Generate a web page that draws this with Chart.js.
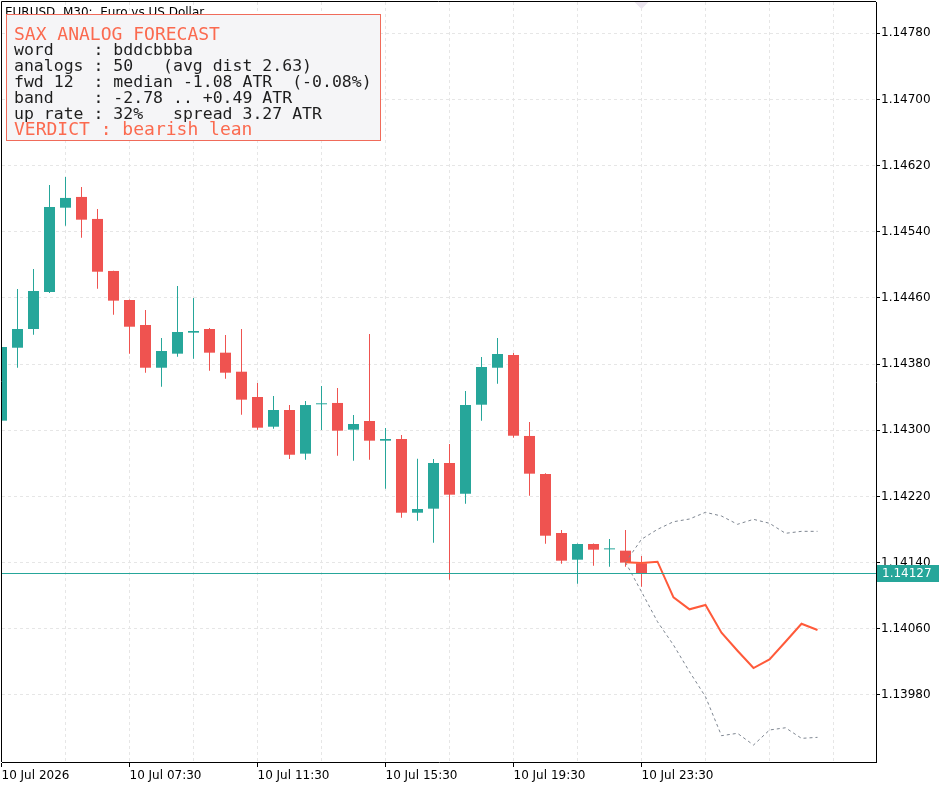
<!DOCTYPE html>
<html>
<head>
<meta charset="utf-8">
<title>EURUSD M30 - SAX analog forecast</title>
<script src="https://cdn.jsdelivr.net/npm/chart.js@4.4.1/dist/chart.umd.min.js"></script>
<style>
  html, body { margin: 0; padding: 0; background: #fff; overflow: hidden; }
  #chart { display: block; }
</style>
</head>
<body>
<canvas id="chart" width="951" height="789"></canvas>
<script>
// --- candles, one per M30 bar (index 0 = 10 Jul 03:30) ---
const opens = [
  1.143116, 1.143998, 1.144224, 1.144672, 1.145691, 1.145821, 1.145555, 1.144926, 1.144575, 1.144273,
  1.143756, 1.143926, 1.144180, 1.144224, 1.143938, 1.143708, 1.143402, 1.143043, 1.143245, 1.142717,
  1.143314, 1.143330, 1.143007, 1.143112, 1.142874, 1.142894, 1.142003, 1.142052, 1.142604, 1.142233,
  1.143309, 1.143756, 1.143910, 1.142931, 1.142471, 1.141758, 1.141435, 1.141625, 1.141560, 1.141544,
  1.141391
];
const highs = [
  1.144020, 1.144708, 1.144950, 1.145966, 1.146062, 1.145942, 1.145675, 1.144930, 1.144580, 1.144454,
  1.144116, 1.144744, 1.144599, 1.144236, 1.144152, 1.144224, 1.143572, 1.143414, 1.143305, 1.143354,
  1.143535, 1.143511, 1.143185, 1.144164, 1.143027, 1.142943, 1.142656, 1.142653, 1.142834, 1.143475,
  1.143886, 1.144116, 1.143934, 1.143100, 1.142480, 1.141794, 1.141630, 1.141630, 1.141685, 1.141794,
  1.141479
];
const lows = [
  1.143100, 1.143756, 1.144156, 1.144660, 1.145474, 1.145328, 1.144712, 1.144397, 1.143926, 1.143696,
  1.143527, 1.143890, 1.143865, 1.143720, 1.143624, 1.143188, 1.143007, 1.143019, 1.142653, 1.142644,
  1.143003, 1.142692, 1.142632, 1.142644, 1.142293, 1.141943, 1.141906, 1.141640, 1.141193, 1.142112,
  1.143116, 1.143563, 1.142910, 1.142209, 1.141628, 1.141386, 1.141145, 1.141362, 1.141350, 1.141350,
  1.141108
];
const closes = [
  1.144007, 1.144224, 1.144684, 1.145700, 1.145809, 1.145546, 1.144917, 1.144567, 1.144252, 1.143756,
  1.143958, 1.144188, 1.144200, 1.143938, 1.143696, 1.143370, 1.143031, 1.143245, 1.142704, 1.143305,
  1.143316, 1.142995, 1.143076, 1.142874, 1.142894, 1.142003, 1.142048, 1.142604, 1.142221, 1.143305,
  1.143765, 1.143922, 1.142934, 1.142475, 1.141725, 1.141423, 1.141625, 1.141556, 1.141562, 1.141400,
  1.141270
];

// --- forecast, 12 bars forward from bar 39 ---
const forecastStart = 39;
const forecastMedian = [
  1.141403, 1.141395, 1.141411, 1.140980, 1.140835, 1.140887, 1.140552,
  1.140334, 1.140125, 1.140230, 1.140443, 1.140661, 1.140585
];
const forecastUpper = [
  1.141403, 1.141682, 1.141802, 1.141894, 1.141927, 1.142008, 1.141963,
  1.141863, 1.141923, 1.141875, 1.141754, 1.141778, 1.141778
];
const forecastLower = [
  1.141403, 1.141048, 1.140685, 1.140403, 1.140081, 1.139778, 1.139307,
  1.139336, 1.139194, 1.139376, 1.139403, 1.139275, 1.139287
];

// --- axes ---
const yTicks = [1.13980, 1.14060, 1.14140, 1.14220, 1.14300, 1.14380, 1.14460, 1.14540, 1.14620, 1.14700, 1.14780];
const timeLabelBars = [0, 8, 16, 24, 32, 40];
const timeLabels = ['10 Jul 2026', '10 Jul 07:30', '10 Jul 11:30', '10 Jul 15:30', '10 Jul 19:30', '10 Jul 23:30'];
const gridBars = [0, 4, 8, 12, 16, 20, 24, 28, 32, 36, 40, 44, 48, 52];

const chartTitle = 'EURUSD, M30:  Euro vs US Dollar';
const infoTitle = 'SAX ANALOG FORECAST';
const infoLines = [
  'word    : bddcbbba',
  'analogs : 50   (avg dist 2.63)',
  'fwd 12  : median -1.08 ATR  (-0.08%)',
  'band    : -2.78 .. +0.49 ATR',
  'up rate : 32%   spread 3.27 ATR'
];
const infoVerdict = 'VERDICT : bearish lean';

const UP = '#26a69a';
const DOWN = '#ef5350';
const FONT = 'DejaVu Sans';

Chart.defaults.font.family = FONT;
Chart.defaults.font.size = 12;
Chart.defaults.color = '#000';

const lastBar = closes.length - 1;
const bid = closes[lastBar];
const candleColors = closes.map((c, i) => (c >= opens[i] ? UP : DOWN));

const wickData = highs.map((h, i) => ({ x: i, y: [lows[i], h] }));
const bodyData = opens.map((o, i) => ({ x: i, y: [o, closes[i]] }));
const toLine = arr => arr.map((v, i) => ({ x: forecastStart + i, y: v }));

const overlay = {
  id: 'overlay',
  afterDatasetsDraw(chart) {
    const { ctx, chartArea: a, scales: { y } } = chart;
    const py = Math.round(y.getPixelForValue(bid)) + 0.5;
    ctx.save();
    ctx.strokeStyle = UP;
    ctx.lineWidth = 1;
    ctx.beginPath();
    ctx.moveTo(a.left, py);
    ctx.lineTo(a.right, py);
    ctx.stroke();
    ctx.restore();
  },
  afterDraw(chart) {
    const { ctx, chartArea: a, scales: { x, y } } = chart;
    ctx.save();

    // frame on the left and top
    ctx.strokeStyle = '#000';
    ctx.lineWidth = 1;
    ctx.beginPath();
    ctx.moveTo(1.5, a.bottom);
    ctx.lineTo(1.5, 1.5);
    ctx.lineTo(a.right, 1.5);
    ctx.stroke();

    // chart shift marker
    const sx = x.getPixelForValue(lastBar);
    ctx.fillStyle = '#ebe5ef';
    ctx.beginPath();
    ctx.moveTo(sx - 7, 2);
    ctx.lineTo(sx + 7, 2);
    ctx.lineTo(sx, 9);
    ctx.closePath();
    ctx.fill();

    // bid price label
    const py = y.getPixelForValue(bid);
    ctx.fillStyle = UP;
    ctx.fillRect(a.right + 1, Math.round(py) - 8, 62, 17);
    ctx.fillStyle = '#fff';
    ctx.font = '12px "' + FONT + '"';
    ctx.textBaseline = 'middle';
    ctx.fillText(bid.toFixed(5), a.right + 6, Math.round(py) + 0.5);

    // symbol header
    ctx.fillStyle = '#000';
    ctx.textBaseline = 'alphabetic';
    ctx.fillText(chartTitle, 5, 16);

    // info box
    ctx.fillStyle = '#f5f5f7';
    ctx.fillRect(6.5, 14.5, 374, 126);
    ctx.strokeStyle = '#f06b5a';
    ctx.strokeRect(6.5, 14.5, 374, 126);

    ctx.font = '18px "DejaVu Sans Mono"';
    ctx.fillStyle = '#fb6a4f';
    ctx.fillText(infoTitle, 14, 39.5);
    ctx.font = '16.5px "DejaVu Sans Mono"';
    ctx.fillStyle = '#1e1e1e';
    infoLines.forEach((t, i) => ctx.fillText(t, 14, 54.5 + 16 * i));
    ctx.font = '18px "DejaVu Sans Mono"';
    ctx.fillStyle = '#fb6a4f';
    ctx.fillText(infoVerdict, 14, 135);

    ctx.restore();
  }
};

new Chart(document.getElementById('chart'), {
  type: 'bar',
  data: {
    datasets: [
      {
        label: 'wicks',
        data: wickData,
        backgroundColor: candleColors,
        barThickness: 1,
        grouped: false,
        borderWidth: 0,
        inflateAmount: 0,
        order: 2
      },
      {
        label: 'bodies',
        data: bodyData,
        backgroundColor: candleColors,
        barThickness: 11,
        minBarLength: 1,
        grouped: false,
        borderWidth: 0,
        inflateAmount: 0,
        order: 1
      },
      {
        type: 'line',
        label: 'upper band',
        data: toLine(forecastUpper),
        borderColor: '#7d8590',
        borderWidth: 1,
        borderDash: [3, 3],
        pointRadius: 0,
        tension: 0,
        order: 0
      },
      {
        type: 'line',
        label: 'lower band',
        data: toLine(forecastLower),
        borderColor: '#7d8590',
        borderWidth: 1,
        borderDash: [3, 3],
        pointRadius: 0,
        tension: 0,
        order: 0
      },
      {
        type: 'line',
        label: 'median',
        data: toLine(forecastMedian),
        borderColor: '#ff5a3a',
        borderWidth: 2,
        pointRadius: 0,
        tension: 0,
        order: -1
      }
    ]
  },
  options: {
    responsive: false,
    animation: false,
    devicePixelRatio: 1,
    events: [],
    layout: { padding: { left: 2, top: 2, right: 0, bottom: 0 } },
    plugins: {
      legend: { display: false },
      tooltip: { enabled: false }
    },
    scales: {
      x: {
        type: 'linear',
        min: 0.03125,
        max: 0.03125 + 874 / 16,
        offset: false,
        grid: {
          offset: false,
          color: '#e6e6e6',
          tickLength: 5,
          tickColor: c => (c.tick && timeLabelBars.includes(c.tick.value) ? '#000' : 'rgba(0,0,0,0)')
        },
        border: { display: true, color: '#000', width: 1, dash: [3, 3] },
        ticks: {
          align: 'start',
          autoSkip: false,
          maxRotation: 0,
          padding: 2,
          color: '#000',
          font: { family: FONT, size: 12 },
          callback: v => {
            const k = timeLabelBars.indexOf(v);
            return k >= 0 ? timeLabels[k] : '';
          }
        },
        afterBuildTicks: s => { s.ticks = gridBars.map(v => ({ value: v })); },
        afterFit: s => { s.height = 27; s.paddingLeft = 0; s.paddingRight = 0; }
      },
      y: {
        position: 'right',
        min: 1.138989,
        max: 1.148178,
        beginAtZero: false,
        grid: { color: '#e6e6e6', tickColor: '#000', tickLength: 4 },
        border: { display: true, color: '#000', width: 1, dash: [3, 3] },
        ticks: {
          autoSkip: false,
          padding: 1,
          color: '#000',
          font: { family: FONT, size: 12 },
          callback: v => v.toFixed(5)
        },
        afterBuildTicks: s => { s.ticks = yTicks.map(v => ({ value: v })); },
        afterFit: s => { s.width = 75; s.paddingTop = 0; s.paddingBottom = 0; }
      }
    }
  },
  plugins: [overlay]
});
</script>
</body>
</html>
